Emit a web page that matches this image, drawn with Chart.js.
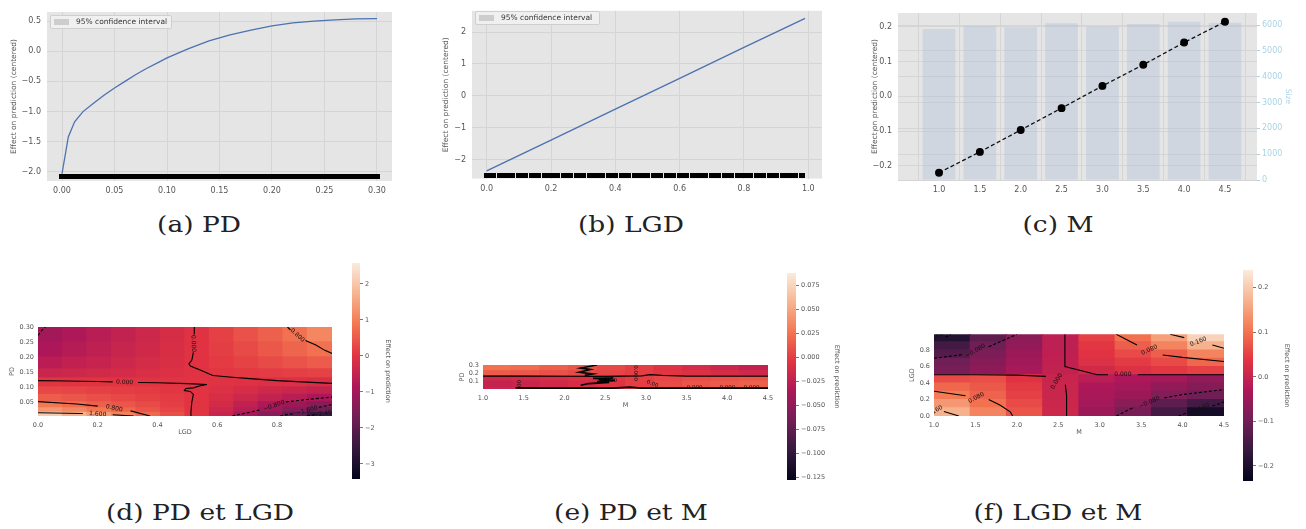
<!DOCTYPE html>
<html><head><meta charset="utf-8">
<script src="https://cdn.jsdelivr.net/npm/chart.js@4.4.0/dist/chart.umd.min.js"></script>
<style>
body{margin:0;background:#fff;width:1306px;height:529px;overflow:hidden;position:relative;font-family:"DejaVu Sans",sans-serif;}
canvas{position:absolute;}
.cap{position:absolute;font-family:"DejaVu Serif",serif;font-size:23px;color:#222;transform:translate(-50%,-50%) scaleX(1.15);white-space:nowrap;}
.leg{position:absolute;background:rgba(242,242,242,0.85);border:1px solid #cfcfcf;border-radius:2px;font-size:7.5px;color:#333;box-sizing:border-box;}
.leg span.sw{position:absolute;background:#cdcdcd;}
.leg span.tx{position:absolute;white-space:nowrap;}
</style></head><body>
<script>
// ---------------- DATA ----------------
// (a) PD partial dependence
const pdX = [0.0, 0.006, 0.012, 0.02, 0.03, 0.04, 0.05, 0.06, 0.07, 0.08, 0.09, 0.10, 0.12, 0.14, 0.16, 0.18, 0.20, 0.22, 0.24, 0.26, 0.28, 0.30];
const pdEffect = [-2.03, -1.42, -1.17, -1.0, -0.86, -0.73, -0.61, -0.5, -0.39, -0.29, -0.2, -0.11, 0.04, 0.17, 0.27, 0.35, 0.42, 0.47, 0.50, 0.52, 0.535, 0.54];
const pdRug = [0,0.005,0.01,0.015,0.02,0.025,0.03,0.035,0.04,0.045,0.05,0.055,0.06,0.065,0.07,0.075,0.08,0.085,0.09,0.095,0.1,0.105,0.11,0.115,0.12,0.125,0.13,0.135,0.14,0.145,0.15,0.155,0.16,0.165,0.17,0.175,0.18,0.185,0.19,0.195,0.2,0.205,0.21,0.215,0.22,0.225,0.23,0.235,0.24,0.245,0.25,0.255,0.26,0.265,0.27,0.275,0.28,0.285,0.29,0.295,0.3];
const pdRugY = -2.075;
// (b) LGD
const lgdX = [0.0, 0.2, 0.4, 0.6, 0.8, 0.99];
const lgdEffect = [-2.36, -1.39, -0.42, 0.55, 1.52, 2.43];
const lgdRug = [0,0.02,0.04,0.06,0.08,0.1,0.12,0.14,0.16,0.18,0.2,0.22,0.24,0.26,0.28,0.3,0.32,0.34,0.36,0.38,0.4,0.42,0.44,0.46,0.48,0.5,0.52,0.54,0.56,0.58,0.6,0.62,0.64,0.66,0.68,0.7,0.72,0.74,0.76,0.78,0.8,0.82,0.84,0.86,0.88,0.9,0.92,0.94,0.96,0.98];
const lgdRugY = -2.49;
// (c) M
const mX = [1.0, 1.5, 2.0, 2.5, 3.0, 3.5, 4.0, 4.5];
const mEffect = [-0.22, -0.16, -0.097, -0.034, 0.030, 0.091, 0.155, 0.215];
const mSize = [5850, 5960, 5910, 6065, 5935, 6040, 6130, 6090];

// (d) PD x LGD heatmap: rows = PD bins (bottom->top), cols = LGD bins
const dLgdEdges = [0, 0.082, 0.164, 0.246, 0.328, 0.41, 0.492, 0.574, 0.656, 0.738, 0.82, 0.902, 0.984];
const dPdEdges = [0.003, 0.015, 0.03, 0.05, 0.075, 0.1, 0.13, 0.16, 0.2, 0.25, 0.3];
const dGrid = [
  [2.10, 1.67, 1.34, 1.01, 0.68, 0.36, 0.03, -0.43, -0.90, -1.38, -1.90, -2.50],
  [1.30, 1.08, 0.87, 0.66, 0.44, 0.23, 0.02, -0.32, -0.67, -1.02, -1.38, -1.73],
  [0.90, 0.75, 0.60, 0.46, 0.31, 0.16, 0.01, -0.25, -0.53, -0.81, -1.09, -1.37],
  [0.55, 0.46, 0.37, 0.28, 0.19, 0.10, 0.01, -0.16, -0.33, -0.50, -0.67, -0.84],
  [0.28, 0.23, 0.18, 0.14, 0.09, 0.05, 0.00, -0.09, -0.19, -0.29, -0.38, -0.48],
  [0.03, 0.02, 0.02, 0.01, 0.01, 0.00, 0.00, -0.02, -0.05, -0.07, -0.10, -0.12],
  [-0.40, -0.33, -0.27, -0.20, -0.14, -0.07, -0.01, 0.04, 0.08, 0.12, 0.16, 0.20],
  [-0.65, -0.54, -0.44, -0.33, -0.22, -0.12, -0.01, 0.10, 0.20, 0.31, 0.42, 0.52],
  [-0.85, -0.71, -0.57, -0.43, -0.29, -0.15, -0.01, 0.15, 0.31, 0.48, 0.64, 0.80],
  [-1.00, -0.83, -0.67, -0.51, -0.34, -0.18, -0.02, 0.19, 0.39, 0.60, 0.80, 1.10]
];
const dRange = [-3.42, 2.58];
const dCbTicks = [2, 1, 0, -1, -2, -3];
// (d) contour lines [LGD, PD]
const dZeroH = [[0,0.121],[0.1,0.12],[0.2,0.118],[0.25,0.117],null,[0.335,0.115],[0.4,0.114],[0.5,0.111],[0.565,0.108]];
const dZeroTop = [[0.523,0.30],[0.523,0.275],null,[0.52,0.215],[0.515,0.19],[0.505,0.177],[0.51,0.17],[0.545,0.156],[0.585,0.138],[0.64,0.133],[0.72,0.127],[0.8,0.121],[0.9,0.116],[0.984,0.112]];
const dZeroBot = [[0.565,0.108],[0.54,0.103],[0.52,0.097],[0.495,0.095],[0.49,0.088],[0.51,0.085],[0.52,0.075],[0.515,0.05],[0.512,0.02],[0.512,0.003]];
const dPos08 = [[0,0.051],[0.13,0.043],[0.2,0.036],null,[0.31,0.02],[0.375,0.003]];
const dPos16 = [[0,0.014],[0.15,0.0115],null,[0.25,0.007],[0.32,0.003]];
const dNeg08TL = [[0,0.272],[0.012,0.288],[0.025,0.30]];
const dPos08TR = [[0.835,0.30],[0.845,0.29],null,[0.895,0.255],[0.93,0.24],[0.96,0.222],[0.984,0.212]];
const dNeg08BR = [[0.65,0.003],[0.72,0.018],[0.745,0.024],null,[0.83,0.05],[0.9,0.058],[0.984,0.066]];
const dNeg16BR = [[0.81,0.003],[0.86,0.012],null,[0.94,0.032],[0.984,0.041]];
const dNeg24BR = [[0.9,0.003],[0.93,0.008],null,[0.984,0.02]];
const dLabels = [
  {x:0.29,y:0.1155,t:'0.000',r:2},{x:0.52,y:0.245,t:'0.000',r:88},{x:0.255,y:0.029,t:'0.800',r:12},
  {x:0.2,y:0.0095,t:'1.600',r:4},{x:0.868,y:0.272,t:'0.800',r:42},{x:0.79,y:0.037,t:'−0.800',r:-20},
  {x:0.9,y:0.021,t:'−1.600',r:-15},{x:0.96,y:0.011,t:'−2.400',r:-10}
];

// (e) PD x M heatmap: rows = PD bins (bottom->top), cols = M bins
const eMEdges = [1.0, 1.35, 1.7, 2.05, 2.4, 2.75, 3.1, 3.45, 3.8, 4.15, 4.5];
const ePdEdges = [0.003, 0.03, 0.1, 0.165, 0.23, 0.30];
const eGrid = [
  [-0.020, -0.018, -0.015, -0.010, -0.005, 0.000, 0.005, 0.008, 0.012, 0.015],
  [-0.022, -0.020, -0.016, -0.012, -0.006, 0.000, 0.006, 0.010, 0.013, 0.016],
  [-0.016, -0.014, -0.011, -0.008, -0.004, 0.000, 0.004, 0.007, 0.009, 0.011],
  [0.014, 0.012, 0.009, 0.006, 0.003, 0.000, -0.004, -0.008, -0.012, -0.016],
  [0.024, 0.021, 0.016, 0.011, 0.005, 0.000, -0.006, -0.012, -0.018, -0.024]
];
const eRange = [-0.128, 0.0875];
const eCbTicks = [0.075, 0.05, 0.025, 0, -0.025, -0.05, -0.075, -0.1, -0.125];
const eZero = [[1.0,0.162],[1.5,0.162],[2.0,0.161],[2.5,0.16],[2.95,0.165],[3.05,0.18],[3.2,0.172],[3.5,0.163],[4.0,0.162],[4.5,0.162]];
const eZig = [[2.4,0.30],[2.2,0.262],[2.32,0.245],[2.18,0.21],[2.35,0.19],[2.25,0.172]];
const eBlob = [[2.35,0.135],[2.6,0.14],[2.42,0.12],[2.62,0.11],[2.4,0.095],[2.55,0.085],[2.3,0.07],[2.2,0.05]];
const eBottom = [[1.4,0.016],[1.8,0.014],[2.2,0.012],[2.6,0.014],[2.8,0.025],[2.95,0.014],[3.5,0.012],[4.0,0.012],[4.5,0.012]];
const eLabels = [
  {x:2.87,y:0.2,t:'0.000',r:90},{x:3.08,y:0.065,t:'0.00',r:22},{x:1.43,y:0.07,t:'00',r:90},
  {x:3.6,y:0.022,t:'0.000',r:0},{x:4.0,y:0.022,t:'0.000',r:0},{x:4.3,y:0.022,t:'0.000',r:0},{x:2.55,y:0.11,t:'0.000',r:0}
];

// (f) LGD x M heatmap: rows = LGD bins (bottom->top), cols = M bins
const fMEdges = [1.0, 1.4375, 1.875, 2.3125, 2.75, 3.1875, 3.625, 4.0625, 4.5];
const fLgdEdges = [0, 0.1, 0.2, 0.3, 0.4, 0.5, 0.6, 0.7, 0.8, 0.9, 1.0];
const fGrid = [
  [0.17, 0.12, 0.07, 0.010, -0.050, -0.09, -0.15, -0.21],
  [0.14, 0.10, 0.06, 0.008, -0.040, -0.07, -0.12, -0.15],
  [0.11, 0.085, 0.05, 0.006, -0.035, -0.05, -0.08, -0.10],
  [0.09, 0.075, 0.045, 0.005, -0.030, -0.04, -0.06, -0.075],
  [0.06, 0.065, 0.035, 0.004, -0.015, -0.03, -0.04, -0.06],
  [-0.09, -0.065, -0.035, -0.004, 0.015, 0.03, 0.04, 0.05],
  [-0.10, -0.075, -0.045, -0.006, 0.030, 0.045, 0.06, 0.09],
  [-0.13, -0.085, -0.05, -0.008, 0.035, 0.06, 0.08, 0.12],
  [-0.15, -0.10, -0.06, -0.010, 0.040, 0.08, 0.12, 0.17],
  [-0.19, -0.12, -0.07, -0.010, 0.050, 0.10, 0.15, 0.21]
];
const fRange = [-0.234, 0.24];
const fCbTicks = [0.2, 0.1, 0, -0.1, -0.2];
const fZeroL = [[1.0,0.5],[1.5,0.5],[2.0,0.495],[2.35,0.48]];
const fZeroV = [[2.58,0.99],[2.58,0.6],[2.97,0.5],[3.1,0.5],null,[3.46,0.5],[4.5,0.5]];
const fZeroLow = [[2.585,0.38],[2.6,0.25],[2.6,0.0]];
const fPos08LL = [[1.0,0.3],[1.38,0.245],null,[1.66,0.2],[1.8,0.13],[1.92,0.05],[1.95,0.0]];
const fPos16LL = [[1.12,0.055],[1.3,0.0]];
const fPos08UR = [[3.2,0.99],[3.45,0.86],null,[3.76,0.74],[4.0,0.71],[4.5,0.66]];
const fPos16UR = [[3.85,0.99],[4.02,0.95],null,[4.36,0.86],[4.5,0.82]];
const fNeg08UL = [[1.0,0.7],[1.36,0.745],null,[1.66,0.84],[2.0,0.99]];
const fNeg16UL = [[1.14,0.955],[1.2,0.99]];
const fNeg08LR = [[3.2,0.0],[3.42,0.11],null,[3.78,0.22],[4.0,0.26],[4.5,0.32]];
const fNeg16LR = [[3.95,0.0],[4.05,0.04],null,[4.36,0.12],[4.5,0.17]];
const fLabels = [
  {x:1.51,y:0.22,t:'0.080',r:-28},{x:1.04,y:0.075,t:'160',r:-30},{x:2.48,y:0.42,t:'0.000',r:-58},
  {x:3.28,y:0.5,t:'0.000',r:0},{x:3.6,y:0.8,t:'0.080',r:-25},{x:4.19,y:0.9,t:'0.160',r:-20},
  {x:1.5,y:0.79,t:'−0.080',r:-30},{x:1.05,y:0.965,t:'160',r:-30},{x:3.6,y:0.165,t:'−0.080',r:-25},{x:4.2,y:0.08,t:'−0.160',r:-25}
];

// ---------------- HELPERS ----------------
Chart.defaults.animation = false;
Chart.defaults.responsive = false;
Chart.defaults.devicePixelRatio = 1;
Chart.defaults.events = [];
Chart.defaults.plugins.legend.display = false;
Chart.defaults.plugins.tooltip.enabled = false;
Chart.defaults.font.family = '"DejaVu Sans", sans-serif';
const FAM = '"DejaVu Sans", sans-serif';
const TXT = '#555';

const ROCKET = [[0,[3,5,26]],[0.143,[53,25,62]],[0.286,[112,31,87]],[0.429,[173,23,89]],[0.571,[225,51,66]],[0.714,[243,118,81]],[0.857,[246,180,143]],[1,[250,235,221]]];
function rocket(t){
  t = Math.max(0, Math.min(1, t));
  for (let i = 1; i < ROCKET.length; i++) {
    if (t <= ROCKET[i][0]) {
      const [t0,c0] = ROCKET[i-1], [t1,c1] = ROCKET[i];
      const f = (t - t0) / (t1 - t0);
      return 'rgb(' + c0.map((c,k)=>Math.round(c + (c1[k]-c)*f)).join(',') + ')';
    }
  }
  return 'rgb(250,235,221)';
}
function fmt(d){ return v => (v < -1e-12 ? '−' : '') + Math.abs(v).toFixed(d); }
function mkCanvas(L,T,W,H){
  const c = document.createElement('canvas');
  c.width = W; c.height = H; c.style.left = L+'px'; c.style.top = T+'px';
  c.style.width = W+'px'; c.style.height = H+'px';
  document.body.appendChild(c); return c;
}
function axis(o){
  const horiz = (o.pos === 'bottom' || o.pos === 'top');
  return {
    type:'linear', position:o.pos, min:o.min, max:o.max, offset:false, z:o.z||0,
    afterBuildTicks: s => { s.ticks = o.ticks.map(v => ({value:v})); },
    afterFit: s => { if (horiz) s.height = o.size; else s.width = o.size; },
    ticks: { font:{family:FAM,size:o.font||8}, color:o.color||TXT, padding:o.pad==null?4:o.pad, callback: fmt(o.dec), autoSkip:false, maxRotation:0, minRotation:0 },
    grid: { display: o.grid !== false, drawOnChartArea: o.grid !== false && !o.noArea, color: o.gridColor || '#d5d5d5', lineWidth:1, drawTicks: !!o.tickMark, tickLength: 3, tickColor: o.tickColor || '#888' },
    border: { display:false },
    title: o.title ? { display:true, text:o.title, font:{family:FAM,size:o.tfont||7.5}, color:o.tcolor||o.color||TXT, padding:{top:o.tpad,bottom:o.tpad} } : {display:false}
  };
}
function bgPlugin(col){ return { id:'bg', beforeDraw(ch){ const a = ch.chartArea; ch.ctx.save(); ch.ctx.fillStyle = col; ch.ctx.fillRect(a.left,a.top,a.right-a.left,a.bottom-a.top); ch.ctx.restore(); } }; }
function labelPlugin(items, size){ return { id:'clabels', afterDatasetsDraw(ch){
  const ctx = ch.ctx, xs = ch.scales.x, ys = ch.scales.y, a = ch.chartArea;
  ctx.save(); ctx.beginPath(); ctx.rect(a.left,a.top,a.right-a.left,a.bottom-a.top); ctx.clip();
  ctx.font = size + 'px ' + FAM; ctx.fillStyle = '#111'; ctx.textAlign = 'center'; ctx.textBaseline = 'middle';
  for (const l of items) { ctx.save(); ctx.translate(xs.getPixelForValue(l.x), ys.getPixelForValue(l.y)); ctx.rotate(l.r*Math.PI/180); ctx.fillText(l.t,0,0); ctx.restore(); }
  ctx.restore(); } }; }
function heat(xEdges, yEdges, grid, range){
  const xc = xEdges.slice(0,-1).map((e,i) => (e + xEdges[i+1]) / 2);
  return grid.map((row,r) => ({
    type:'bar', order:10, grouped:false, barPercentage:1, categoryPercentage:1, borderWidth:0, inflateAmount:0.6,
    data: row.map((v,c) => ({x:xc[c], y:[yEdges[r], yEdges[r+1]]})),
    backgroundColor: row.map(v => rocket((v - range[0]) / (range[1] - range[0])))
  }));
}
function contour(arr, dashed, w){
  return { type:'line', order:0, data: arr.map(p => p ? {x:p[0], y:p[1]} : {x:null, y:null}),
    borderColor:'#000', borderWidth:w||1.1, borderDash: dashed ? [3,2] : [], pointRadius:0, fill:false, tension:0, spanGaps:false };
}
function colorbar(L,T,W,H, padL,padT,padB, axW, range, ticks, dec, tpad){
  new Chart(mkCanvas(L,T,W,H), {
    type:'bar',
    data:{ labels:[''], datasets:[{ data:[[range[0], range[1]]], barPercentage:1, categoryPercentage:1, borderWidth:0,
      backgroundColor: c => { const ch = c.chart, a = ch.chartArea; if (!a) return '#000';
        const g = ch.ctx.createLinearGradient(0, a.bottom, 0, a.top); ROCKET.forEach(([t,col]) => g.addColorStop(t, 'rgb('+col.join(',')+')')); return g; } }] },
    options:{ layout:{padding:{left:padL, top:padT, bottom:padB, right:0}},
      scales:{ x:{display:false},
        y: axis({pos:'right', min:range[0], max:range[1], ticks, dec, size:axW, font:6.5, pad:2, noArea:true, tickMark:true, tickColor:'#777', title:'Effect on prediction', tfont:6.5, tpad}) } }
  });
}
function rugImage(w,h){ const c = document.createElement('canvas'); c.width=w; c.height=h; const x = c.getContext('2d'); x.fillStyle='#000'; x.fillRect(0,0,w,h); return c; }
const rugMark = rugImage(6,5);
function caption(text, x, y){ const d = document.createElement('div'); d.className='cap'; d.textContent=text; d.style.left=x+'px'; d.style.top=y+'px'; document.body.appendChild(d); }
function legendBox(L,T,W,H, swL, txL){
  const d = document.createElement('div'); d.className='leg'; Object.assign(d.style,{left:L+'px',top:T+'px',width:W+'px',height:H+'px'});
  const s = document.createElement('span'); s.className='sw'; Object.assign(s.style,{left:swL+'px',top:(H/2-4)+'px',width:'15px',height:'6px'});
  const t = document.createElement('span'); t.className='tx'; t.textContent='95% confidence interval'; Object.assign(t.style,{left:txL+'px',top:(H/2-6.5)+'px'});
  d.appendChild(s); d.appendChild(t); document.body.appendChild(d);
}

// ---------------- (a) PD ----------------
new Chart(mkCanvas(0,0,400,200), {
  type:'scatter',
  data:{ datasets:[
    { data: pdX.map((x,i)=>({x, y:pdEffect[i]})), showLine:true, borderColor:'#4c72b0', borderWidth:1.3, pointRadius:0, order:0 },
    { data: pdRug.map(x=>({x, y:pdRugY})), pointStyle: rugMark, pointRadius:3, order:1 }
  ]},
  options:{ layout:{padding:{top:12, right:8, left:0, bottom:0}}, plugins:{}, 
    scales:{
      x: axis({pos:'bottom', min:-0.0143, max:0.3143, ticks:[0,0.05,0.1,0.15,0.2,0.25,0.3], dec:2, size:19, pad:5}),
      y: axis({pos:'left', min:-2.15, max:0.65, ticks:[-2,-1.5,-1,-0.5,0,0.5], dec:1, size:47, pad:6, title:'Effect on prediction (centered)', tpad:9.5})
    } },
  plugins:[bgPlugin('#e5e5e5')]
});
legendBox(50,15,122,14,3,25);

// ---------------- (b) LGD ----------------
new Chart(mkCanvas(420,0,410,200), {
  type:'scatter',
  data:{ datasets:[
    { data: lgdX.map((x,i)=>({x, y:lgdEffect[i]})), showLine:true, borderColor:'#4c72b0', borderWidth:1.3, pointRadius:0, order:0 },
    { data: lgdRug.map(x=>({x, y:lgdRugY})), pointStyle: rugMark, pointRadius:3, order:1 }
  ]},
  options:{ layout:{padding:{top:6.5, right:8, left:0, bottom:0}},
    scales:{
      x: axis({pos:'bottom', min:-0.0457, max:1.0426, ticks:[0,0.2,0.4,0.6,0.8,1.0], dec:1, size:21.4, pad:6}),
      y: axis({pos:'left', min:-2.6, max:2.67, ticks:[-2,-1,0,1,2], dec:0, size:52, pad:6, title:'Effect on prediction (centered)', tpad:22})
    } },
  plugins:[bgPlugin('#e5e5e5')]
});
legendBox(475,11,125,14,3,25);

// ---------------- (c) M ----------------
new Chart(mkCanvas(850,0,456,200), {
  type:'bar',
  data:{ datasets:[
    { type:'line', data: mX.map((x,i)=>({x, y:mEffect[i]})), yAxisID:'y', borderColor:'#111', borderWidth:1.3, borderDash:[4,2.5],
      pointRadius:3.3, pointBackgroundColor:'#000', pointBorderColor:'#000', order:0 },
    { type:'bar', data: mX.map((x,i)=>({x, y:mSize[i]})), yAxisID:'y2', backgroundColor:'rgba(176,192,218,0.42)', borderWidth:0,
      barPercentage:0.8, categoryPercentage:1, order:5 }
  ]},
  options:{ layout:{padding:{top:13, right:0, left:0, bottom:0}},
    scales:{
      x: axis({pos:'bottom', min:0.498, max:4.892, ticks:[1,1.5,2,2.5,3,3.5,4,4.5], dec:1, size:20, pad:5}),
      y: axis({pos:'left', min:-0.241, max:0.24, ticks:[-0.2,-0.1,0,0.1,0.2], dec:1, size:48, pad:6, title:'Effect on prediction (centered)', tpad:20.5}),
      y2: axis({pos:'right', min:0, max:6465, ticks:[0,1000,2000,3000,4000,5000,6000], dec:0, size:49, pad:2, color:'#a9d3e6', tickMark:true, tickColor:'#a9d3e6', title:'Size', tpad:13.5})
    } },
  plugins:[bgPlugin('#e5e5e5')]
});

// ---------------- (d) PD et LGD ----------------
new Chart(mkCanvas(0,300,345,145), {
  type:'bar',
  data:{ datasets:[
    ...heat(dLgdEdges, dPdEdges, dGrid, dRange),
    contour(dZeroH), contour(dZeroTop), contour(dZeroBot), contour(dPos08), contour(dPos16),
    contour(dNeg08TL, true), contour(dPos08TR), contour(dNeg08BR, true), contour(dNeg16BR, true), contour(dNeg24BR, true)
  ]},
  options:{ layout:{padding:{top:27, right:13, left:0, bottom:0}},
    scales:{
      x: axis({pos:'bottom', min:0, max:0.984, ticks:[0,0.2,0.4,0.6,0.8], dec:1, size:29, pad:5, font:6.5, z:1, gridColor:'rgba(255,255,255,0.55)', title:'LGD', tfont:6.5, tpad:8.4}),
      y: axis({pos:'left', min:0.003, max:0.3, ticks:[0.05,0.1,0.15,0.2,0.25,0.3], dec:2, size:38, pad:4, font:6.5, z:1, gridColor:'rgba(255,255,255,0.55)', title:'PD', tfont:6.5, tpad:8.4})
    } },
  plugins:[labelPlugin(dLabels, 6)]
});
colorbar(345,255,60,235, 7,8,11, 45, dRange, dCbTicks, 0, 13.4);

// ---------------- (e) PD et M ----------------
new Chart(mkCanvas(445,340,340,80), {
  type:'bar',
  data:{ datasets:[
    ...heat(eMEdges, ePdEdges, eGrid, eRange),
    contour(eZero, false, 1.2), contour(eZig, false, 1.6), contour(eBlob, false, 1.6), contour(eBottom, false, 1.8)
  ]},
  options:{ layout:{padding:{top:25, right:17, left:0, bottom:0}},
    scales:{
      x: axis({pos:'bottom', min:1, max:4.5, ticks:[1,1.5,2,2.5,3,3.5,4,4.5], dec:1, size:31, pad:5, font:6.5, z:1, gridColor:'rgba(255,255,255,0.55)', title:'M', tfont:6.5, tpad:10.4}),
      y: axis({pos:'left', min:0.003, max:0.3, ticks:[0.1,0.2,0.3], dec:1, size:38, pad:4, font:6.5, z:1, gridColor:'rgba(255,255,255,0.55)', title:'PD', tfont:6.5, tpad:13.4})
    } },
  plugins:[labelPlugin(eLabels, 5.5)]
});
colorbar(780,265,70,225, 7,8,10, 54, eRange, eCbTicks, 3, 9.4);

// ---------------- (f) LGD et M ----------------
new Chart(mkCanvas(890,300,350,145), {
  type:'bar',
  data:{ datasets:[
    ...heat(fMEdges, fLgdEdges, fGrid, fRange),
    contour(fZeroL), contour(fZeroV), contour(fZeroLow), contour(fPos08LL), contour(fPos16LL), contour(fPos08UR), contour(fPos16UR),
    contour(fNeg08UL, true), contour(fNeg16UL, true), contour(fNeg08LR, true), contour(fNeg16LR, true)
  ]},
  options:{ layout:{padding:{top:34.3, right:16, left:0, bottom:0}},
    scales:{
      x: axis({pos:'bottom', min:1, max:4.5, ticks:[1,1.5,2,2.5,3,3.5,4,4.5], dec:1, size:29, pad:5, font:6.5, z:1, gridColor:'rgba(255,255,255,0.55)', title:'M', tfont:6.5, tpad:8.4}),
      y: axis({pos:'left', min:0, max:0.99, ticks:[0,0.2,0.4,0.6,0.8], dec:1, size:44, pad:4, font:6.5, z:1, gridColor:'rgba(255,255,255,0.55)', title:'LGD', tfont:6.5, tpad:18.4})
    } },
  plugins:[labelPlugin(fLabels, 6)]
});
colorbar(1236,262,70,228, 7,8,9, 53, fRange, fCbTicks, 1, 15.4);

// ---------------- captions ----------------
caption('(a) PD', 199, 224);
caption('(b) LGD', 631, 224);
caption('(c) M', 1058, 224);
caption('(d) PD et LGD', 200, 512);
caption('(e) PD et M', 631, 512);
caption('(f) LGD et M', 1058, 512);
</script>
</body></html>
